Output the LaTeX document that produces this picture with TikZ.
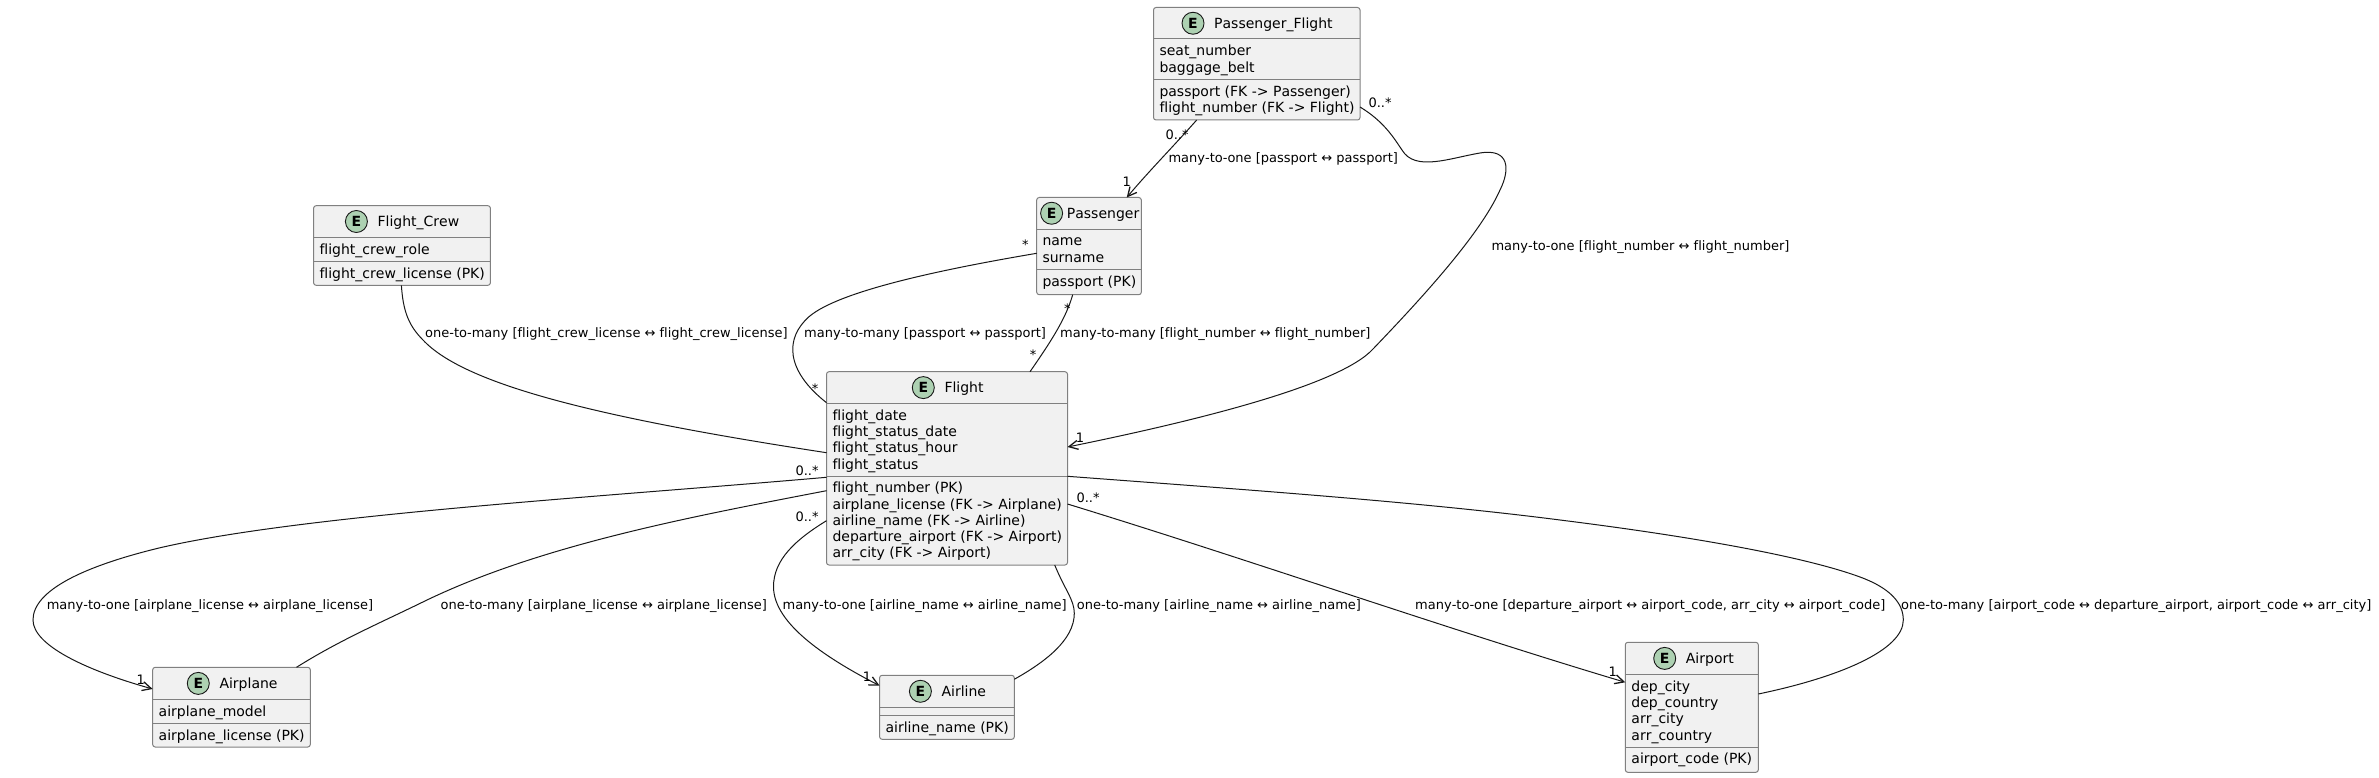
\documentclass[tikz,border=0pt]{standalone}
\usepackage{fontspec}
\setmainfont[Ligatures={NoCommon},Kerning=Off]{DejaVu Sans}
\usetikzlibrary{arrows.meta}
\definecolor{boxfill}{HTML}{F1F1F1}
\definecolor{boxline}{HTML}{808080}
\definecolor{conn}{HTML}{181818}
\definecolor{spot}{HTML}{ADD1B2}
\tikzset{
  entitybox/.style={draw=boxline,fill=boxfill,line width=1pt,rounded corners=2.5pt,inner sep=0pt,outer sep=0pt},
  rowline/.style={draw=boxline,line width=1pt},
  spotmark/.style={circle,draw=conn,fill=spot,line width=0.9pt,minimum size=22pt,inner sep=0pt,font=\fontsize{14}{14}\selectfont\bfseries},
  titletxt/.style={anchor=base west,inner sep=0pt,font=\fontsize{14}{16}\selectfont},
  fieldtxt/.style={anchor=base west,inner sep=0pt,font=\fontsize{14}{16}\selectfont},
  lbl/.style={anchor=base west,inner sep=0pt,font=\fontsize{13}{15}\selectfont},
  card/.style={anchor=base,inner sep=0pt,font=\fontsize{13}{15}\selectfont},
  cardw/.style={anchor=base west,inner sep=0pt,font=\fontsize{13}{15}\selectfont},
  link/.style={draw=conn,line width=1pt},
  linkto/.style={link,-{Straight Barb[length=9pt,width=9pt,line width=1.3pt]}}
}
\newcommand{\tgap}{21}
% name x1 y1 x2 y2 header-line separator circle-x title
\newcommand{\ebox}[9]{%
  \pgfmathsetmacro{\bw}{#4-#2}\pgfmathsetmacro{\bh}{#5-#3}%
  \pgfmathsetmacro{\bx}{(#2+#4)/2}\pgfmathsetmacro{\by}{(#3+#5)/2}%
  \node[entitybox,minimum width=\bw pt,minimum height=\bh pt] (#1) at (\bx,\by) {};
  \draw[rowline] (#2,#6) -- (#4,#6);
  \draw[rowline] (#2,#7) -- (#4,#7);
  \pgfmathsetmacro{\cy}{(#3+#6)/2}\pgfmathsetmacro{\ty}{\cy+5}\pgfmathsetmacro{\tx}{#8+\tgap}%
  \node[spotmark] (#1spot) at (#8,\cy) {E};
  \node[titletxt] (#1title) at (\tx,\ty) {#9};
}
\newcommand{\erows}[4]{% name x line-y list
  \foreach \t [count=\i] in {#4} {
    \pgfmathsetmacro{\fy}{#3+16.8+(\i-1)*16.25}
    \node[fieldtxt] (#1r\i) at (#2,\fy) {\t};
  }
}
\begin{document}
\begin{tikzpicture}[x=1pt,y=-1pt]
\useasboundingbox (0,0) rectangle (2379,778);

\ebox{pf}{1153.5}{7.5}{1360}{120}{39}{79.5}{1193}{Passenger\_Flight}
\erows{pfa}{1159.3}{39}{seat\_number,baggage\_belt}
\erows{pfb}{1159.3}{79.5}{passport (FK -> Passenger),flight\_number (FK -> Flight)}

\renewcommand{\tgap}{15.1}
\ebox{pax}{1036.7}{197.5}{1141.3}{294.7}{229}{269.5}{1051.6}{Passenger}
\renewcommand{\tgap}{21}
\erows{paxa}{1042.3}{229}{name,surname}
\erows{paxb}{1042.3}{269.5}{passport (PK)}

\ebox{crew}{313.6}{205.7}{490.4}{285.3}{237.3}{261.3}{356.4}{Flight\_Crew}
\erows{crewa}{319.3}{237.3}{flight\_crew\_role}
\erows{crewb}{319.3}{261.3}{flight\_crew\_license (PK)}

\ebox{flt}{826.5}{371.7}{1067.5}{565}{403.5}{476}{923.3}{Flight}
\erows{flta}{832.3}{403.5}{flight\_date,flight\_status\_date,flight\_status\_hour,flight\_status}
\erows{fltb}{832.3}{476}{flight\_number (PK),airplane\_license (FK -> Airplane),airline\_name (FK -> Airline),departure\_airport (FK -> Airport),arr\_city (FK -> Airport)}

\ebox{apl}{152.7}{667.3}{310.3}{747}{699.5}{723.5}{198.3}{Airplane}
\erows{apla}{158.5}{699.5}{airplane\_model}
\erows{aplb}{158.5}{723.5}{airplane\_license (PK)}

\ebox{aln}{879.6}{675.3}{1014.3}{739.3}{707.3}{715.3}{920.4}{Airline}
\erows{alnb}{885.4}{715.3}{airline\_name (PK)}

\ebox{apt}{1625.3}{642.3}{1758.3}{772.3}{674.5}{747}{1664.7}{Airport}
\erows{apta}{1631.2}{674.5}{dep\_city,dep\_country,arr\_city,arr\_country}
\erows{aptb}{1631.2}{747}{airport\_code (PK)}

% connectors
\draw[linkto] ([xshift=43.2pt]pf.south west) .. controls (1170,150) and (1150,170) .. ([xshift=90pt]pax.north west);
\draw[linkto] ([yshift=13pt]pf.south east) .. controls (1385,122) and (1395,140) .. (1402,150) .. controls (1415,172) and (1450,158) .. (1480,153) .. controls (1510,148) and (1510,170) .. (1500,190) .. controls (1480,235) and (1420,300) .. (1373,349) .. controls (1340,385) and (1200,420) .. ([yshift=-75.3pt]flt.north east);
\draw[link] ([xshift=87.8pt]crew.south west) .. controls (403,310) and (408,325) .. (423,340) .. controls (465,385) and (600,418) .. ([yshift=-81pt]flt.north west);
\draw[link] ([yshift=-55.8pt]pax.north west) .. controls (950,268) and (840,290) .. (809,316.7) .. controls (785,338) and (785,370) .. ([yshift=-31pt]flt.north west);
\draw[link] ([xshift=36pt]pax.south west) .. controls (1066,318) and (1052,340) .. ([xshift=203.5pt]flt.north west);
\draw[linkto] ([yshift=-105.6pt]flt.north west) .. controls (600,497) and (300,515) .. (159,548) .. controls (85,566) and (33,590) .. (33,620) .. controls (33,645) and (85,670) .. ([yshift=-21.7pt]apl.north west);
\draw[link] ([yshift=-119pt]flt.north west) .. controls (690,517) and (540,545) .. (423.5,601.7) .. controls (380,623) and (340,640) .. ([xshift=143.8pt]apl.north west);
\draw[linkto] ([yshift=-149pt]flt.north west) .. controls (795,540) and (773.5,560) .. (773.5,586.7) .. controls (773.5,625) and (830,660) .. ([yshift=-10.4pt]aln.north west);
\draw[link] ([xshift=228.2pt]flt.south west) .. controls (1065,590) and (1074.3,600) .. (1074.3,613.3) .. controls (1074.3,640) and (1045,662) .. ([yshift=-4pt]aln.north east);
\draw[linkto] ([yshift=-132.3pt]flt.north east) .. controls (1250,560) and (1450,630) .. ([yshift=-40pt]apt.north west);
\draw[link] ([yshift=-104.6pt]flt.north east) .. controls (1250,490) and (1420,502) .. (1560,520) .. controls (1680,535) and (1800,555) .. (1860,577) .. controls (1890,588) and (1903.3,603) .. (1903.3,620) .. controls (1903.3,650) and (1840,677) .. ([yshift=-51.7pt]apt.north east);

% connector labels
\node[lbl] (l1) at (1168.3,163) {many-to-one [passport ↔ passport]};
\node[lbl] (l2) at (1491.3,250) {many-to-one [flight\_number ↔ flight\_number]};
\node[lbl] (l3) at (425,337.5) {one-to-many [flight\_crew\_license ↔ flight\_crew\_license]};
\node[lbl] (l4) at (804,337.5) {many-to-many [passport ↔ passport]};
\node[lbl] (l5) at (1060,337.5) {many-to-many [flight\_number ↔ flight\_number]};
\node[lbl] (l6) at (46.6,609.3) {many-to-one [airplane\_license ↔ airplane\_license]};
\node[lbl] (l7) at (440.4,609.3) {one-to-many [airplane\_license ↔ airplane\_license]};
\node[lbl] (l8) at (782.4,609.3) {many-to-one [airline\_name ↔ airline\_name]};
\node[lbl] (l9) at (1076.7,609.3) {one-to-many [airline\_name ↔ airline\_name]};
\node[lbl] (l10) at (1415,609.3) {many-to-one [departure\_airport ↔ airport\_code, arr\_city ↔ airport\_code]};
\node[lbl] (l11) at (1901,609.3) {one-to-many [airport\_code ↔ departure\_airport, airport\_code ↔ arr\_city]};

% cardinalities
\node[cardw] (c1) at (1368.3,107.2) {0..*};
\node[cardw] (c2) at (1165.3,139.8) {0..*};
\node[card] (c3) at (1126.7,186.5) {1};
\node[card] (c4) at (1080,442.5) {1};
\node[cardw] (c5) at (795.3,475.2) {0..*};
\node[cardw] (c6) at (795.3,521.2) {0..*};
\node[cardw] (c7) at (1076.3,502.8) {0..*};
\node[card] (c8) at (140.7,684.5) {1};
\node[card] (c9) at (867,681) {1};
\node[card] (c10) at (1612.7,676) {1};
\node[card] (s1) at (1025.3,249.8) {*};
\node[card] (s2) at (1067.3,313.8) {*};
\node[card] (s3) at (1033,359.8) {*};
\node[card] (s4) at (815,393.5) {*};
\end{tikzpicture}
\end{document}
